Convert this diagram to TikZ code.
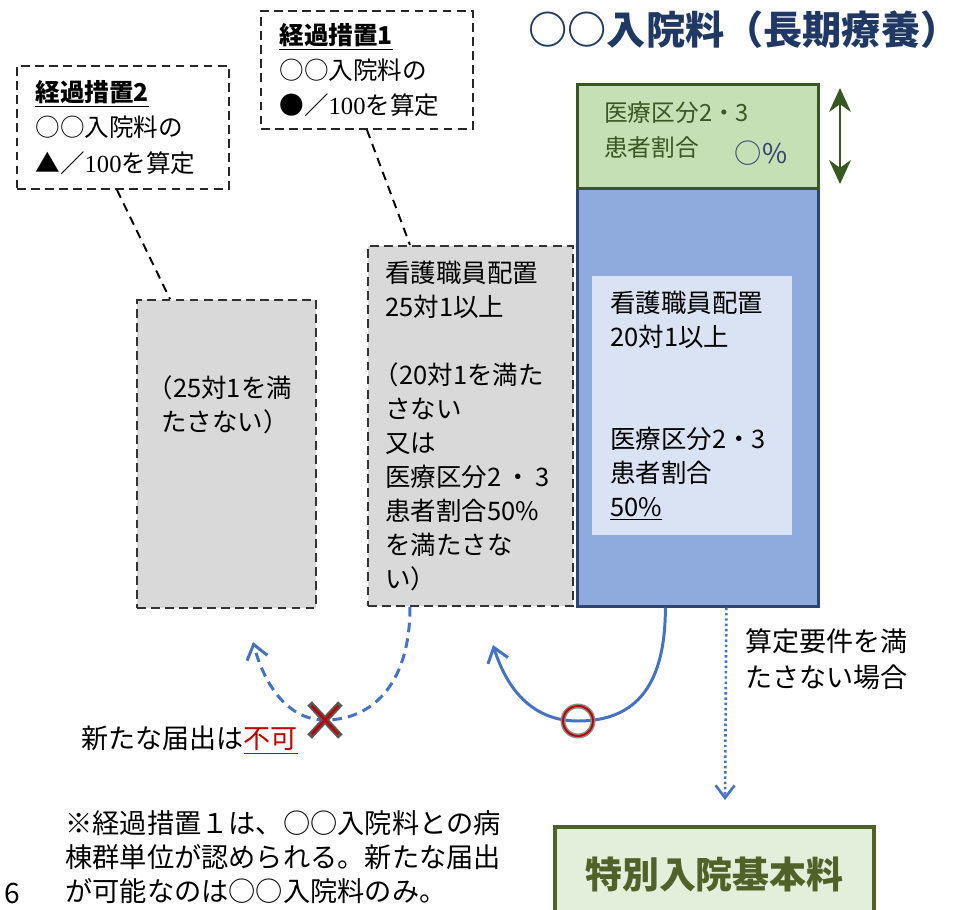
\documentclass[tikz,border=0pt]{standalone}
\usepackage{fontspec}
\setmainfont{Noto Sans CJK JP}
\newfontfamily\numserif{Liberation Serif}
\usepackage{xcolor, tikz}
\usetikzlibrary{positioning,arrows.meta,shapes.misc}
\definecolor{titlenavy}{HTML}{203864}
\definecolor{grayfill}{HTML}{D9D9D9}
\definecolor{bluefill}{HTML}{8FAADC}
\definecolor{navyline}{HTML}{2F4470}
\definecolor{innerfill}{HTML}{DAE3F3}
\definecolor{greenfill}{HTML}{C5E0B4}
\definecolor{greenline}{HTML}{385723}
\definecolor{valueblue}{HTML}{34466E}
\definecolor{arrowblue}{HTML}{4472C4}
\definecolor{ngred}{HTML}{C00000}
\definecolor{markgray}{HTML}{595959}
\definecolor{specialfill}{HTML}{E2EFDA}
\definecolor{specialline}{HTML}{4F6228}
\tikzstyle{notebox} = [rectangle, draw=black!85, line width=1.1pt, dash pattern=on 5pt off 3pt, fill=white, align=left, text width=3.5cm, inner xsep=0.37cm, inner ysep=0pt, anchor=north west, font=\fontsize{14}{20}\selectfont]
\tikzstyle{grayblock} = [rectangle, draw=black!80, line width=1.1pt, dash pattern=on 5pt off 3pt, fill=grayfill, anchor=north west]
\tikzstyle{blocktext} = [font=\fontsize{14.5}{19.4}\selectfont]
\tikzstyle{mainblock} = [rectangle, draw=navyline, fill=bluefill, line width=1.6pt, anchor=north west, minimum width=4.82cm, minimum height=8.36cm]
\tikzstyle{ratioblock} = [rectangle, draw=greenline, fill=greenfill, line width=1.6pt, minimum width=4.82cm, minimum height=2.08cm]
\tikzstyle{innerblock} = [rectangle, fill=innerfill, anchor=north west, align=left, text width=3.28cm, inner xsep=0.36cm, minimum height=5.18cm, blocktext]
\tikzstyle{specialblock} = [rectangle, draw=specialline, fill=specialfill, line width=2.2pt, anchor=north west, minimum width=6.38cm, minimum height=1.9cm, text=specialline, font=\fontsize{21}{24}\selectfont\bfseries]
\tikzstyle{leader} = [line width=1.1pt, dash pattern=on 5pt off 3.5pt]
\tikzstyle{flowarrow} = [line width=1.7pt, draw=arrowblue, -{Straight Barb[length=0.28cm, width=0.42cm]}]
\tikzstyle{ngarrow} = [flowarrow, dash pattern=on 5.5pt off 3.5pt]
\tikzstyle{dotarrow} = [line width=1.5pt, draw=arrowblue, dash pattern=on 1.4pt off 1.6pt, -{Straight Barb[length=0.25cm, width=0.38cm]}]
\tikzstyle{rangearrow} = [line width=0.6pt, draw=greenline, {Stealth[length=0.48cm, width=0.44cm]}-{Stealth[length=0.48cm, width=0.44cm]}]
\tikzstyle{annot} = [font=\fontsize{15.4}{20.5}\selectfont]

\begin{document}
\begin{tikzpicture}[x=0.02cm, y=-0.02cm]
  \useasboundingbox (0,0) rectangle (965,910);
  \clip (0,0) rectangle (965,910);
  \node (title)[text=titlenavy, inner sep=0pt, font=\fontsize{22.3}{27}\selectfont\bfseries] at (744,30) {○○入院料（長期療養）};
  % transitional measures
  \node (keika1)[notebox, minimum height=2.36cm] at (260,10) {{\bfseries\underline{経過措置1}}\\○○入院料の\\●／{\numserif 100}を算定};
  \node (keika2)[notebox, minimum height=2.46cm] at (16,65) {{\bfseries\underline{経過措置2}}\\○○入院料の\\▲／{\numserif 100}を算定};
  \node (grayL)[grayblock, minimum width=3.58cm, minimum height=6.16cm] at (136,299) {};
  \node (grayLtext)[blocktext, align=center] at (225,405) {\hspace{-0.4em}（25対1を満\\たさない）};
  \node (grayM)[grayblock, blocktext, align=left, text width=3.4cm, inner xsep=0.35cm, minimum height=7.2cm] at (367,245) {看護職員配置\\25対1以上\\[19.4pt]\hspace{-0.45em}（20対1を満た\\さない\\又は\\医療区分2\,・\,3\\患者割合50\%\\を満たさな\\い）};
  \draw[leader] ([xshift=-0.12cm]keika2.south) -- ([xshift=0.68cm]grayL.north west);
  \draw[leader] (keika1.south) -- ([xshift=0.86cm]grayM.north west);
  % main ward fee
  \node (main)[mainblock] at (576,187) {};
  \node (ratio)[ratioblock, above=-1.6pt of main] {};
  \node (ratiotext)[anchor=west, align=left, text=greenline, font=\fontsize{13.5}{19.5}\selectfont] at (598,130) {医療区分2・3\\患者割合};
  \node (ratiovalue)[text=valueblue, font=\fontsize{15.5}{18}\selectfont] at (761,153) {○\%};
  \coordinate (rangetop) at (840,88);
  \coordinate (rangebot) at (840,184);
  \draw[rangearrow] (rangetop) -- (rangebot);
  \node (inner)[innerblock] at (592,276) {看護職員配置\\20対1以上\\[38.8pt]医療区分2・3\\患者割合\\\underline{50\%}};
  % transitions
  \coordinate (okpt) at (578,721);
  \coordinate (okend) at (493,645);
  \coordinate (ngpt) at (325,720);
  \coordinate (ngend) at (253,642);
  \draw[flowarrow] ([xshift=-0.65cm]main.south) .. controls +(0,85) and +(52,0) .. (okpt) .. controls +(-50,0) and +(12,38) .. (okend);
  \draw[ngarrow] ([xshift=0.86cm]grayM.south west) .. controls +(0,80) and +(45,0) .. (ngpt) .. controls +(-40,0) and +(10,38) .. (ngend);
  \node (okmark)[circle, draw=ngred, line width=1.1pt, minimum size=0.6cm, inner sep=0pt, preaction={draw=markgray!70, line width=2.8pt}] at (okpt) {};
  \node (ngmark)[cross out, draw=ngred, line width=1.4pt, minimum width=0.48cm, minimum height=0.52cm, inner sep=0pt, preaction={draw=markgray, line width=3.6pt, line cap=rect}] at (ngpt) {};
  \node (nglabel)[annot, anchor=west] at (75,740) {新たな届出は\textcolor{ngred}{\underline{不可}}};
  % special fee
  \node (special)[specialblock] at (553,825) {特別入院基本料};
  \coordinate (dotend) at (725,800);
  \draw[dotarrow] ([xshift=0.57cm]main.south) -- (dotend);
  \node (condlabel)[annot, anchor=north west, align=left, inner sep=0pt] at (745,628) {算定要件を満\\たさない場合};
  \node (footnote)[font=\fontsize{15.5}{19.4}\selectfont, anchor=north west, align=left, inner sep=0pt] at (65,810) {※経過措置１は、○○入院料との病\\棟群単位が認められる。新たな届出\\が可能なのは○○入院料のみ。};
  \node (pagenum)[font=\fontsize{16}{18}\selectfont] at (12,893) {6};
\end{tikzpicture}
\end{document}
